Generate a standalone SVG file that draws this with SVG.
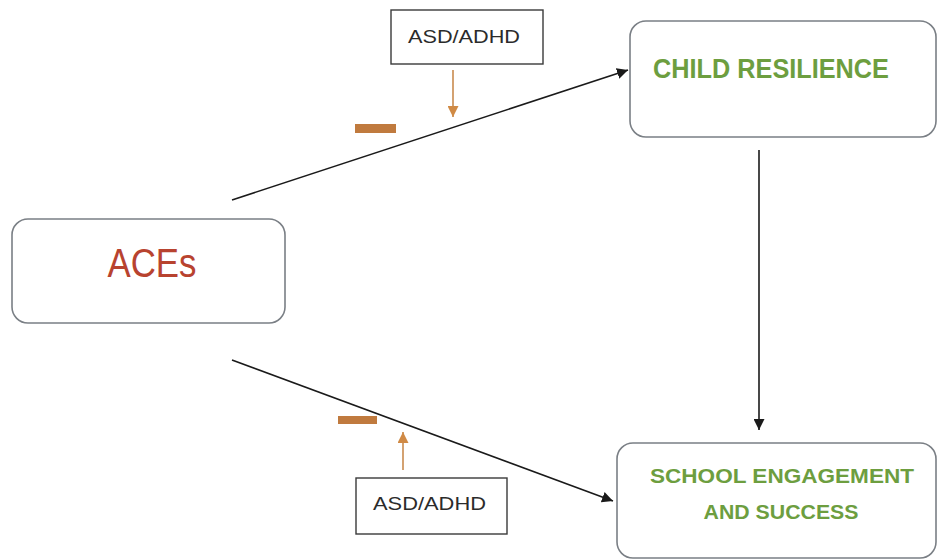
<svg xmlns="http://www.w3.org/2000/svg" width="938" height="560" viewBox="0 0 938 560">
<style>
  .node { fill: #ffffff; stroke: #7a7f85; stroke-width: 1.6; }
  .mod { fill: #ffffff; stroke: #3a3a3a; stroke-width: 1.4; }
  .modtxt { font-family: "Liberation Sans", Arial, sans-serif; font-size: 19px; fill: #2b2b2b; }
  .green { font-family: "Liberation Sans", Arial, sans-serif; font-weight: bold; fill: #6d9e3f; }
  .conn { stroke: #1a1a1a; stroke-width: 1.6; fill: none; }
  .oconn { stroke: #c98b4e; stroke-width: 1.6; fill: none; }
  .dash { fill: #c07a3e; }
</style>
<defs>
  <marker id="ah" viewBox="0 0 10 10" refX="10" refY="5" markerWidth="11" markerHeight="11" markerUnits="userSpaceOnUse" orient="auto">
    <path d="M0,0 L10,5 L0,10 z" fill="#1a1a1a"/>
  </marker>
  <marker id="ahO" viewBox="0 0 10 10" refX="10" refY="5" markerWidth="11" markerHeight="11" markerUnits="userSpaceOnUse" orient="auto">
    <path d="M0,0 L10,5 L0,10 z" fill="#d08a45"/>
  </marker>
</defs>
<rect width="938" height="560" fill="#ffffff"/>

<g id="connectors">
  <line class="conn" x1="232" y1="200" x2="628" y2="70" marker-end="url(#ah)"/>
  <line class="conn" x1="232" y1="360" x2="613" y2="501" marker-end="url(#ah)"/>
  <line class="conn" x1="759" y1="150" x2="759" y2="430" marker-end="url(#ah)"/>
  <line class="oconn" x1="453" y1="70" x2="453" y2="117" marker-end="url(#ahO)"/>
  <line class="oconn" x1="403" y1="470" x2="403" y2="432" marker-end="url(#ahO)"/>
  <rect class="dash" x="355" y="124" width="41" height="9"/>
  <rect class="dash" x="338" y="416" width="39" height="8"/>
</g>

<g id="aces">
  <rect class="node" x="12" y="219" width="273" height="104" rx="16" ry="16"/>
  <text x="152" y="277" text-anchor="middle" font-family="'Liberation Sans', Arial, sans-serif" font-size="40" fill="#b8432f" textLength="89" lengthAdjust="spacingAndGlyphs">ACEs</text>
</g>

<g id="child-resilience">
  <rect class="node" x="630" y="21" width="306" height="116" rx="16" ry="16"/>
  <text class="green" x="653" y="78" font-size="27" textLength="236" lengthAdjust="spacingAndGlyphs">CHILD RESILIENCE</text>
</g>

<g id="school-engagement">
  <rect class="node" x="617" y="443" width="319" height="115" rx="16" ry="16"/>
  <text class="green" x="782" y="483" font-size="21" text-anchor="middle" fill="#5f8f38" textLength="264" lengthAdjust="spacingAndGlyphs">SCHOOL ENGAGEMENT</text>
  <text class="green" x="781" y="519" font-size="21" text-anchor="middle" textLength="155" lengthAdjust="spacingAndGlyphs">AND SUCCESS</text>
</g>

<g id="mod-top">
  <rect class="mod" x="391" y="10" width="152" height="54"/>
  <text class="modtxt" x="408" y="43" textLength="112" lengthAdjust="spacingAndGlyphs">ASD/ADHD</text>
</g>

<g id="mod-bottom">
  <rect class="mod" x="356" y="478" width="151" height="56"/>
  <text class="modtxt" x="373" y="510" textLength="113" lengthAdjust="spacingAndGlyphs">ASD/ADHD</text>
</g>
</svg>
